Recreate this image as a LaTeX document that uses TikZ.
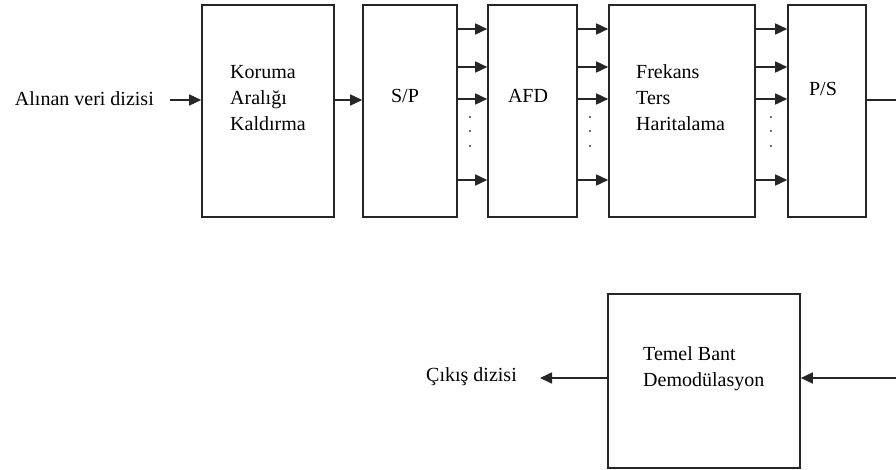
\documentclass[tikz,border=0pt]{standalone}
\usepackage{fontspec}
\setmainfont{Liberation Serif}
\usetikzlibrary{arrows.meta}
\begin{document}
\begin{tikzpicture}[x=1pt,y=-1pt,
  blk/.style={draw=black!85,line width=1.6pt,rectangle,inner sep=0pt},
  lbl/.style={inner sep=0pt,align=left,font=\fontsize{20}{26}\selectfont},
  arr/.style={draw=black!85,line width=1.6pt,-{Triangle[length=12pt,width=11pt]}},
  ln/.style={draw=black!85,line width=1.6pt},
  dotm/.style={circle,fill=black!75,inner sep=0pt,minimum size=2.2pt}]
\useasboundingbox (0,0) rectangle (896,470);
% boxes
\node[blk,minimum width=132pt,minimum height=212pt] (kor) at (268,111) {};
\node[blk,minimum width=94pt,minimum height=212pt] (sp) at (410,111) {};
\node[blk,minimum width=89pt,minimum height=212pt] (afd) at (532.5,111) {};
\node[blk,minimum width=146pt,minimum height=212pt] (frk) at (682,111) {};
\node[blk,minimum width=78pt,minimum height=212pt] (ps) at (827,111) {};
\node[blk,minimum width=192pt,minimum height=174pt] (tmb) at (704,381) {};
% labels
\node[lbl,anchor=east] (in) at (154,99) {Alınan veri dizisi};
\node[lbl,anchor=west] (korT) at (230,98) {Koruma\\Aralığı\\Kaldırma};
\node[lbl] (spT) at (405,96) {S/P};
\node[lbl] (afdT) at (528,96) {AFD};
\node[lbl,anchor=west] (frkT) at (636,98) {Frekans\\Ters\\Haritalama};
\node[lbl] (psT) at (823,89) {P/S};
\node[lbl,anchor=west] (tmbT) at (643,369) {Temel Bant\\Demodülasyon};
\node[lbl,anchor=east] (out) at (517,377) {Çıkış dizisi};
% rows
\coordinate (rm) at (0,100);
\coordinate (r1) at (0,29);
\coordinate (r2) at (0,67);
\coordinate (r3) at (0,99);
\coordinate (r4) at (0,180);
\coordinate (rb) at (0,378);
\coordinate (inS) at (170,100);
\coordinate (psE) at (896,100);
\coordinate (tmbIn) at (896,378);
\coordinate (outE) at (540,378);
% connectors
\draw[arr] (inS) -- (kor.west |- rm);
\draw[arr] (kor.east |- rm) -- (sp.west |- rm);
\foreach \r in {r1,r2,r3,r4}{
  \draw[arr] (sp.east |- \r) -- (afd.west |- \r);
  \draw[arr] (afd.east |- \r) -- (frk.west |- \r);
  \draw[arr] (frk.east |- \r) -- (ps.west |- \r);
}
\draw[ln] (ps.east |- rm) -- (psE);
\draw[arr] (tmbIn) -- (tmb.east |- rb);
\draw[arr] (tmb.west |- rb) -- (outE);
% dots
\foreach \x in {470,590,771}{
  \foreach \y in {117,131,146}{
    \node[dotm] at (\x,\y) {};
  }
}
\end{tikzpicture}
\end{document}
